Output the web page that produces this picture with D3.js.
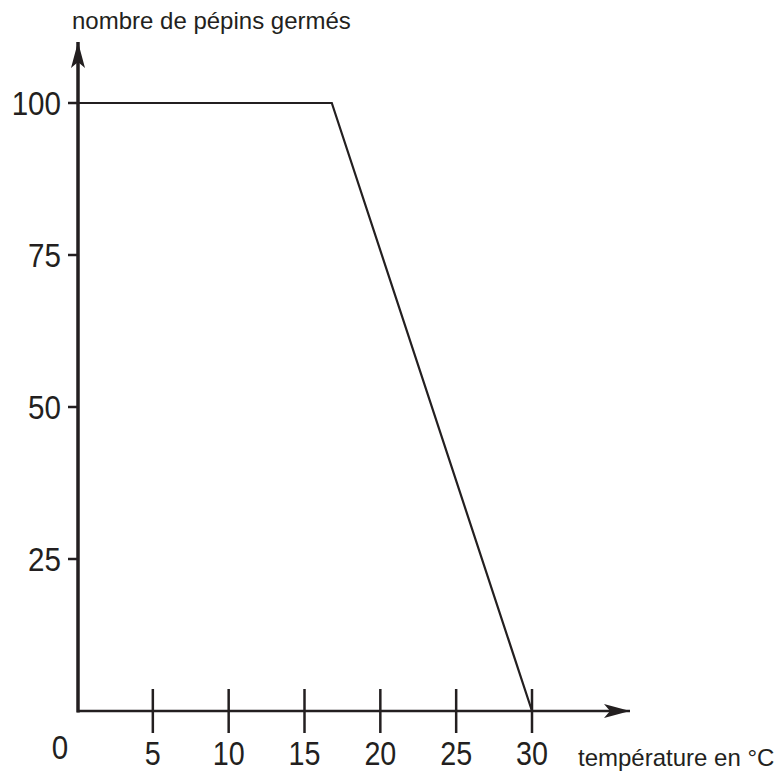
<!DOCTYPE html>
<html>
<head>
<meta charset="utf-8">
<script src="https://cdn.jsdelivr.net/npm/d3@7"></script>
<style>
    body { margin: 0; background: white; }
    text { font-family: "Liberation Sans", Arial, sans-serif; fill: #231f20; }
</style>
</head>
<body>
<div id="chart"></div>
<script>

    // temperature (°C) and germinated seeds
    var temps = [0, 16.8, 30];
    var germes = [100, 100, 0];
    var xTicks = [5, 10, 15, 20, 25, 30];
    var yTicks = [25, 50, 75, 100];

    var width = 774, height = 773;
    var ink = '#231f20';
    var squeeze = 0.87; // condensed look of the digits

    var xScale = d3.scaleLinear().domain([0, 30]).range([77, 532]);
    var yScale = d3.scaleLinear().domain([0, 100]).range([711, 103]);

    var svg = d3.select('#chart').append('svg')
        .attr('width', width)
        .attr('height', height);

    var defs = svg.append('defs');
    defs.append('marker')
        .attr('id', 'arrow')
        .attr('viewBox', '0 0 26 14')
        .attr('refX', 26)
        .attr('refY', 7)
        .attr('markerWidth', 26)
        .attr('markerHeight', 14)
        .attr('markerUnits', 'userSpaceOnUse')
        .attr('orient', 'auto')
        .append('path')
        .attr('d', 'M0,0 L26,7 L0,14 L6,7 Z')
        .attr('fill', ink);

    // x axis
    svg.append('line')
        .attr('x1', xScale(0)).attr('y1', yScale(0))
        .attr('x2', 630).attr('y2', yScale(0))
        .attr('stroke', ink).attr('stroke-width', 2.5)
        .attr('marker-end', 'url(#arrow)');

    // y axis
    svg.append('line')
        .attr('x1', xScale(0) + 1).attr('y1', yScale(0) + 1.5)
        .attr('x2', xScale(0) + 1).attr('y2', 42)
        .attr('stroke', ink).attr('stroke-width', 3.5)
        .attr('marker-end', 'url(#arrow)');

    svg.selectAll('line.xtick')
        .data(xTicks)
        .enter()
        .append('line')
        .attr('class', 'xtick')
        .attr('x1', function(d) { return xScale(d); })
        .attr('x2', function(d) { return xScale(d); })
        .attr('y1', yScale(0) - 22)
        .attr('y2', yScale(0) + 22)
        .attr('stroke', ink).attr('stroke-width', 2.5);

    svg.selectAll('text.xlab')
        .data(xTicks)
        .enter()
        .append('text')
        .attr('class', 'xlab')
        .attr('transform', function(d) { return 'translate(' + xScale(d) + ',765) scale(' + squeeze + ',1)'; })
        .attr('text-anchor', 'middle')
        .attr('font-size', 33)
        .text(function(d) { return d; });

    svg.selectAll('line.ytick')
        .data(yTicks)
        .enter()
        .append('line')
        .attr('class', 'ytick')
        .attr('x1', 68)
        .attr('x2', xScale(0))
        .attr('y1', function(d) { return yScale(d); })
        .attr('y2', function(d) { return yScale(d); })
        .attr('stroke', ink).attr('stroke-width', 2.5);

    svg.selectAll('text.ylab')
        .data(yTicks)
        .enter()
        .append('text')
        .attr('class', 'ylab')
        .attr('transform', function(d) { return 'translate(61,' + (yScale(d) + 12) + ') scale(' + squeeze + ',1)'; })
        .attr('text-anchor', 'end')
        .attr('font-size', 34)
        .text(function(d) { return d; });

    svg.append('text')
        .attr('transform', 'translate(60,759) scale(' + squeeze + ',1)')
        .attr('text-anchor', 'middle')
        .attr('font-size', 34)
        .text('0');

    svg.append('text')
        .attr('x', 72)
        .attr('y', 29)
        .attr('font-size', 24)
        .text('nombre de pépins germés');

    svg.append('text')
        .attr('x', 578)
        .attr('y', 766)
        .attr('font-size', 24)
        .text('température en °C');

    var line = d3.line()
        .x(function(d, i) { return xScale(temps[i]); })
        .y(function(d) { return yScale(d); });

    svg.append('path')
        .attr('d', line(germes))
        .attr('fill', 'none')
        .attr('stroke', ink)
        .attr('stroke-width', 2.2);

</script>
</body>
</html>
